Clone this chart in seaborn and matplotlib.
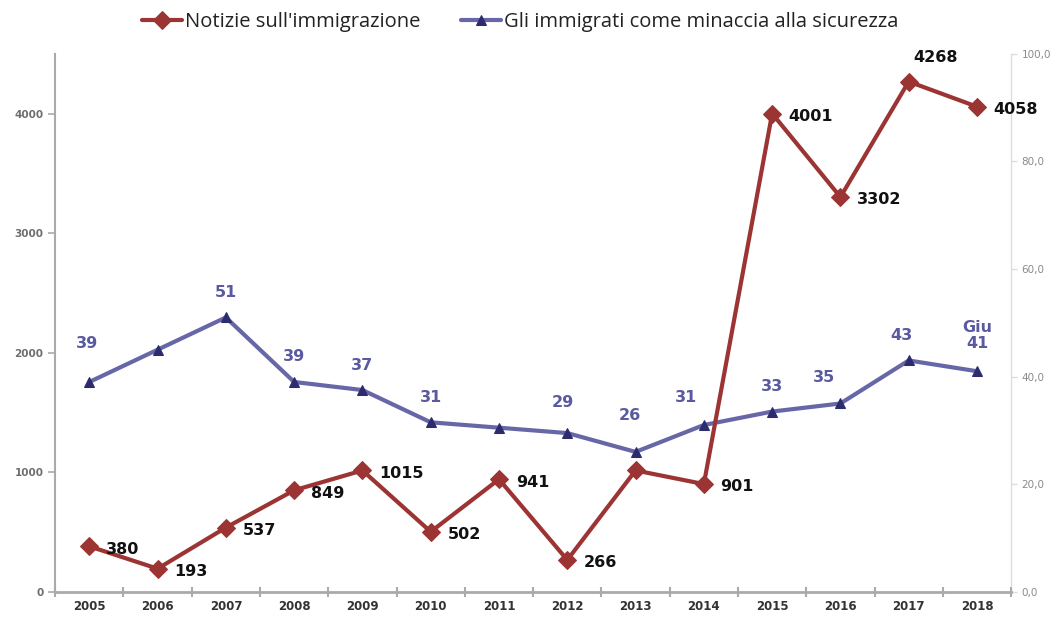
import pandas as pd
import numpy as np
import matplotlib.pyplot as plt
import seaborn as sns

sns.set_theme(style='white')
plt.rcParams['font.family'] = ['DejaVu Sans']

# data
years = ['2005', '2006', '2007', '2008', '2009', '2010', '2011',
         '2012', '2013', '2014', '2015', '2016', '2017', '2018']
news = [380, 193, 537, 849, 1015, 502, 941, 266, 1015, 901, 4001, 3302, 4268, 4058]
threat = [39, 45, 51, 39, 37.5, 31.5, 30.5, 29.5, 26, 31, 33.5, 35, 43, 41]
news_labels = ['380', '193', '537', '849', '1015', '502', '941', '266', None,
               '901', '4001', '3302', '4268', '4058']
threat_labels = ['39', None, '51', '39', '37', '31', None, '29', '26',
                 '31', '33', '35', '43', 'Giu\n41']

df = pd.DataFrame({'anno': years, 'notizie': news, 'minaccia': threat})

red = '#9C3434'
blue_line = '#6767A8'
blue_mark = '#2B2B6E'
blue_text = '#5A5AA0'

fig = plt.figure(figsize=(10.61, 6.19), dpi=100)
ax = fig.add_axes([0.052, 0.044, 0.901, 0.869])
ax2 = ax.twinx()

sns.lineplot(data=df, x='anno', y='minaccia', ax=ax2, color=blue_line, linewidth=3,
             marker='^', markersize=7, markerfacecolor=blue_mark, markeredgecolor=blue_mark,
             label='Gli immigrati come minaccia alla sicurezza')
sns.lineplot(data=df, x='anno', y='notizie', ax=ax, color=red, linewidth=3,
             marker='D', markersize=9, markerfacecolor=red, markeredgecolor=red,
             label="Notizie sull'immigrazione")

# red above blue
ax.set_zorder(ax2.get_zorder() + 1)
ax.patch.set_visible(False)

for a in (ax, ax2):
    if a.get_legend() is not None:
        a.get_legend().remove()

ax.set_xlim(-0.5, 13.5)
ax.set_ylim(0, 4500)
ax2.set_ylim(0, 100)
ax.set_xlabel('')
ax.set_ylabel('')
ax2.set_ylabel('')

# value labels
news_off = {12: (19, 17, 'center')}
for i, lab in enumerate(news_labels):
    if lab is None:
        continue
    dx, dy, ha = news_off.get(i, (12, -2, 'left'))
    ax.annotate(lab, (i, news[i]), xytext=(dx, dy), textcoords='offset points',
                ha=ha, va='center', fontsize=11.5, fontweight='bold', color='#111111')

threat_off = {0: (-2, 28), 7: (-3, 22), 8: (-4, 26), 9: (-13, 20),
              11: (-12, 19), 12: (-5, 18), 13: (0, 26)}
for i, lab in enumerate(threat_labels):
    if lab is None:
        continue
    dx, dy = threat_off.get(i, (0, 18))
    ax2.annotate(lab, (i, threat[i]), xytext=(dx, dy), textcoords='offset points',
                 ha='center', va='center', fontsize=11.5, fontweight='bold',
                 color=blue_text, linespacing=1.1)

# axes styling
ax.set_yticks([0, 1000, 2000, 3000, 4000])
ax.tick_params(axis='y', labelsize=7.5, labelcolor='#6e6e6e', colors='#aaaaaa',
               length=5, width=1.2, left=True, direction='out')
for t in ax.get_yticklabels():
    t.set_fontweight('bold')

ax.set_xticks(np.arange(-0.5, 14, 1), minor=True)
ax.tick_params(axis='x', which='major', length=0, labelsize=8.5, labelcolor='#333333', pad=6)
ax.tick_params(axis='x', which='minor', length=7, width=1.5, color='#aaaaaa',
               direction='inout', bottom=True)
for t in ax.get_xticklabels():
    t.set_fontweight('bold')

ax2.set_yticks([0, 20, 40, 60, 80, 100])
ax2.set_yticklabels([f'{v:.1f}'.replace('.', ',') for v in [0, 20, 40, 60, 80, 100]])
ax2.tick_params(axis='y', labelsize=7.5, labelcolor='#8a8a8a', colors='#dddddd',
                length=4, width=1, right=True, direction='out')
for t in ax2.get_yticklabels():
    t.set_color('#8a8a8a')

for a in (ax, ax2):
    a.spines['top'].set_visible(False)
ax.spines['left'].set_color('#aaaaaa')
ax.spines['left'].set_linewidth(1.5)
ax.spines['bottom'].set_color('#aaaaaa')
ax.spines['bottom'].set_linewidth(2)
ax.spines['right'].set_visible(False)
ax2.spines['left'].set_visible(False)
ax2.spines['bottom'].set_visible(False)
ax2.spines['right'].set_color('#dddddd')
ax2.spines['right'].set_linewidth(1)

h1, l1 = ax.get_legend_handles_labels()
h2, l2 = ax2.get_legend_handles_labels()
fig.legend(h1 + h2, l1 + l2, loc='center', bbox_to_anchor=(0.49, 0.964), ncol=2,
           frameon=False, handlelength=2.0, handletextpad=0.15, columnspacing=2.0,
           prop={'family': 'Open Sans', 'size': 14.5}, labelcolor='#222222')

plt.savefig('out.png', dpi=100)
plt.close()
